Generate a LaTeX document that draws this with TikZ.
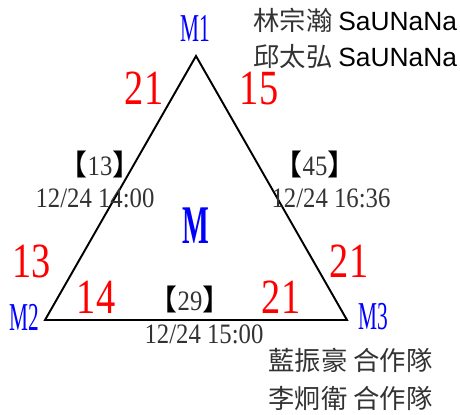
\documentclass[tikz,border=0pt]{standalone}
\usepackage{fontspec}
\setmainfont{Liberation Serif}
\newfontfamily\cjk{Noto Sans CJK TC}
\newfontfamily\latsans{Liberation Sans}
\newfontfamily\datefont[FakeStretch=0.88]{Liberation Serif}
\newfontfamily\numfont[FakeStretch=0.78]{Liberation Serif}
\newfontfamily\vxfont[FakeStretch=0.54]{Liberation Serif}
\newfontfamily\centfont[FakeStretch=0.52]{Liberation Serif Bold}
\definecolor{txtgray}{HTML}{333333}
\newcommand{\bkt}[1]{{\color{black}\cjk\fontsize{16.5pt}{18pt}\selectfont 【}#1{\color{black}\cjk\fontsize{16.5pt}{18pt}\selectfont 】}}

\begin{document}
\begin{tikzpicture}[
    x=0.02cm,
    y=-0.02cm,
    every node/.style={inner sep=0pt},
    score/.style={red,font=\numfont\fontsize{28pt}{30pt}\selectfont},
    vertex/.style={blue,font=\vxfont\fontsize{22.5pt}{24pt}\selectfont},
    stamp/.style={txtgray,font=\datefont\fontsize{16pt}{18pt}\selectfont},
    team/.style={anchor=west,txtgray,font=\cjk\fontsize{15pt}{17pt}\selectfont},
    side/.style={line width=1.1pt}
]
    \useasboundingbox (0,0) rectangle (460,414);

    % triangle
    \coordinate (m1) at (196,56);
    \coordinate (m2) at (45,320);
    \coordinate (m3) at (347,320);
    \draw[side] (m1) -- (m2) -- (m3) -- cycle;

    % vertex labels
    \node[vertex] (lm1) at (195,28) {M1};
    \node[vertex] (lm2) at (24,317) {M2};
    \node[vertex] (lm3) at (373,317) {M3};
    \node[blue,font=\centfont\fontsize{31pt}{33pt}\selectfont] (lm) at (196,226) {M};

    % scores
    \node[score] (s12a) at (144,88) {21};
    \node[score] (s13a) at (259,88) {15};
    \node[score] (s21a) at (32,261) {13};
    \node[score] (s31a) at (349,261) {21};
    \node[score] (s23a) at (96,297) {14};
    \node[score] (s32a) at (281,297) {21};

    % games
    \node[stamp] (g12) at (100,164) {\bkt{13}};
    \node[stamp] (t12) at (95,198) {12/24 14:00};
    \node[stamp] (g13) at (315,164) {\bkt{45}};
    \node[stamp] (t13) at (331,198) {12/24 16:36};
    \node[stamp] (g23) at (190,299) {\bkt{29}};
    \node[stamp] (t23) at (204,334) {12/24 15:00};

    % teams
    \node[team] (p1) at (253,20) {林宗瀚 {\latsans\color{black}SaUNaNa}};
    \node[team] (p2) at (253,57) {邱太弘 {\latsans\color{black}SaUNaNa}};
    \node[team] (p3) at (268,360) {藍振豪 合作隊};
    \node[team] (p4) at (268,398) {李炯衛 合作隊};
\end{tikzpicture}
\end{document}
